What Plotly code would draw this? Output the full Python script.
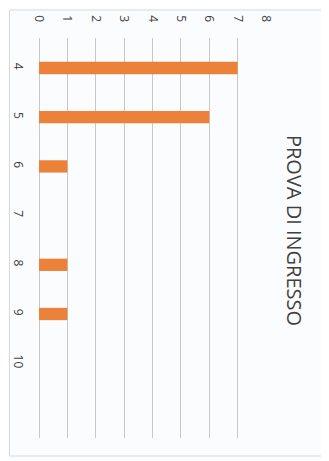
import plotly.graph_objects as go

categories = [4, 5, 6, 7, 8, 9, 10]
values = [7, 6, 1, 0, 1, 1, 0]
value_ticks = [0, 1, 2, 3, 4, 5, 6, 7, 8]
title_text = "PROVA DI INGRESSO"

fig = go.Figure(go.Bar(
    x=values, y=categories, orientation="h",
    marker=dict(color="#EC8139", line=dict(width=0)),
    width=0.25,
))

fig.update_layout(
    width=321, height=453,
    margin=dict(l=31, r=63, t=30, b=23, autoexpand=False),
    paper_bgcolor="#FBFCFD", plot_bgcolor="#FBFCFD",
    showlegend=False,
    font=dict(family="Open Sans", color="#404040", size=12),
    annotations=[dict(
        text=title_text, xref="paper", yref="paper",
        x=1.128, y=0.52, xanchor="center", yanchor="middle",
        showarrow=False, textangle=90,
        font=dict(family="Open Sans", size=20, color="#404040"),
    )],
    shapes=[dict(type="rect", xref="paper", yref="paper",
                 x0=-0.13, x1=1.26, y0=-0.045, y1=1.07,
                 line=dict(color="#DADADA", width=1))],
)
fig.update_xaxes(
    side="top", range=[0, 8], tickvals=value_ticks, tickangle=90,
    showgrid=True, gridcolor="#C8C8C8", gridwidth=1,
    zeroline=True, zerolinecolor="#C8C8C8", zerolinewidth=1,
    showline=False, ticks="", ticklabelstandoff=13, automargin=False,
)
fig.update_yaxes(
    range=[11.52, 3.39], tickvals=categories, tickangle=90,
    showgrid=False, zeroline=False, showline=False, ticks="",
    ticklabelstandoff=12, automargin=False,
)

fig.write_html("out.html")
